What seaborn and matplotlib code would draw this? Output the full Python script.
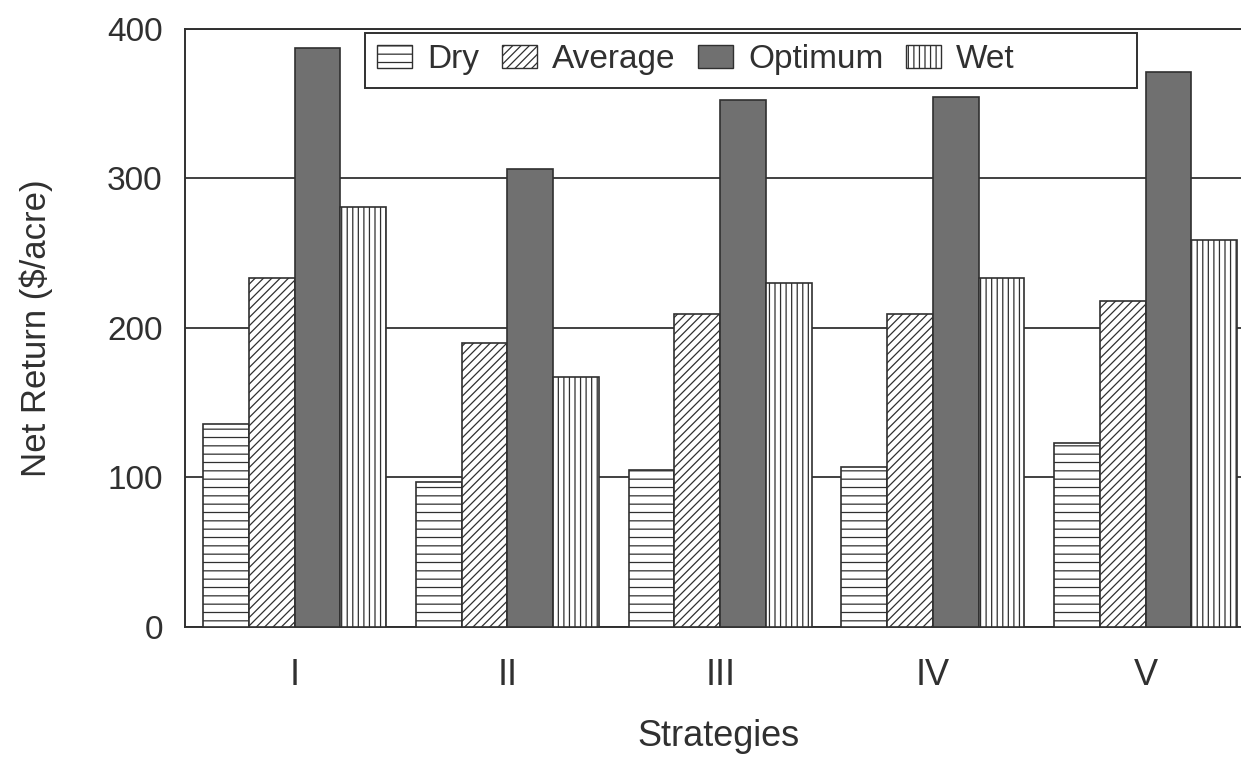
import matplotlib
matplotlib.use("Agg")
import matplotlib.pyplot as plt
import matplotlib.patches as mpatches
import seaborn as sns
import pandas as pd

# ---- data ----
strategies = ["I", "II", "III", "IV", "V"]
conditions = ["Dry", "Average", "Optimum", "Wet"]
dry = [136, 97, 105, 107, 123]
average = [233, 190, 209, 209, 218]
optimum = [387, 306, 352, 354, 371]
wet = [281, 167, 230, 233, 259]
y_ticks = [0, 100, 200, 300, 400]

series = {"Dry": dry, "Average": average, "Optimum": optimum, "Wet": wet}
rows = []
for cond in conditions:
    for s, v in zip(strategies, series[cond]):
        rows.append({"Strategy": s, "Condition": cond, "Return": v})
df = pd.DataFrame(rows)

sns.set_style("white")
plt.rcParams["font.family"] = ["Liberation Sans", "DejaVu Sans"]
plt.rcParams["hatch.linewidth"] = 0.9

ink = "#303030"
fills = {"Dry": "white", "Average": "white", "Optimum": "#707070", "Wet": "white"}
hatches = {"Dry": "--", "Average": "////", "Optimum": "", "Wet": "|||"}

fig = plt.figure(figsize=(12.41, 7.57), dpi=100)
ax = fig.add_axes([0.1491, 0.1717, 0.8598, 0.7906])

sns.barplot(data=df, x="Strategy", y="Return", hue="Condition",
            order=strategies, hue_order=conditions, palette=fills,
            width=0.86, edgecolor=ink, linewidth=1.2, saturation=1,
            ax=ax, zorder=3)

for cont, cond in zip(ax.containers, conditions):
    for bar in cont:
        bar.set_hatch(hatches[cond])
        bar.set_edgecolor(ink)

if ax.get_legend() is not None:
    ax.get_legend().remove()

ax.set_xlim(-0.515, 4.5)
ax.set_ylim(0, 400)
ax.set_yticks(y_ticks)
ax.set_yticklabels([str(t) for t in y_ticks])

ax.grid(axis="y", color="#404040", linewidth=1.4, zorder=0)
ax.grid(axis="x", visible=False)
ax.set_axisbelow(True)

for side in ["left", "bottom", "top"]:
    ax.spines[side].set_visible(True)
    ax.spines[side].set_color(ink)
    ax.spines[side].set_linewidth(1.4)
ax.spines["right"].set_visible(False)

ax.tick_params(axis="y", length=0, pad=16, labelsize=24, labelcolor=ink)
ax.tick_params(axis="x", length=0, pad=22, labelsize=26, labelcolor=ink)

ax.set_xlabel("Strategies", fontsize=26, color=ink, labelpad=19)
ax.set_ylabel("Net Return ($/acre)", fontsize=25, color=ink, labelpad=39)

# legend
handles = [mpatches.Patch(facecolor=fills[c], edgecolor=ink, hatch=hatches[c], linewidth=1.0)
           for c in conditions]
leg = ax.legend(handles, conditions, ncol=4, loc="center left",
                bbox_to_anchor=(0.180, 0.948), frameon=False, fontsize=24,
                handlelength=1.05, handleheight=0.66, handletextpad=0.45,
                columnspacing=0.68, borderpad=0, borderaxespad=0,
                labelcolor=ink)
leg.set_zorder(6)
frame = mpatches.Rectangle((0.169, 0.9006), 0.723, 0.0919, transform=ax.transAxes,
                           facecolor="white", edgecolor=ink, linewidth=1.4, zorder=5)
ax.add_patch(frame)

fig.savefig("out.png", dpi=100)
